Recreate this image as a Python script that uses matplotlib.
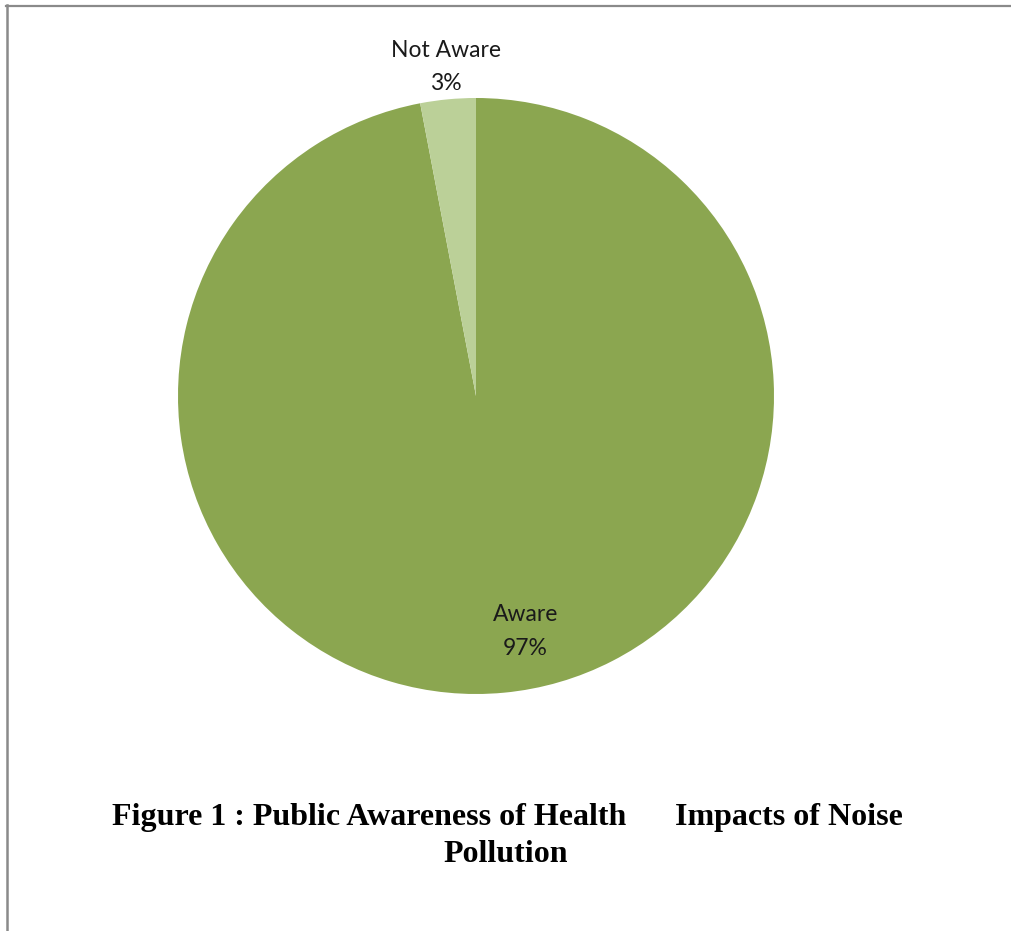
import matplotlib
matplotlib.use("Agg")
import matplotlib.pyplot as plt
from matplotlib.lines import Line2D

categories = ["Aware", "Not Aware"]
values = [97, 3]
colors = ["#8BA650", "#BBD098"]

W, H = 1011, 931
fig = plt.figure(figsize=(W / 100, H / 100), dpi=100)
fig.patch.set_facecolor("white")

cx, cy, r = 476, 396, 298
ax = fig.add_axes([(cx - r) / W, (H - cy - r) / H, 2 * r / W, 2 * r / H])
ax.pie(values, colors=colors, startangle=90, counterclock=False, radius=1.0,
       wedgeprops=dict(linewidth=0, edgecolor="none"))
ax.set_xlim(-1, 1)
ax.set_ylim(-1, 1)
ax.set_aspect("equal")
ax.axis("off")

label_pos = {"Aware": (0.165, -0.79), "Not Aware": (-0.10, 1.105)}
for cat, v in zip(categories, values):
    x, y = label_pos[cat]
    ax.text(x, y, f"{cat}\n{v}%", ha="center", va="center", fontsize=16.5,
            family=["Lato", "DejaVu Sans"], color="#1a1a1a", linespacing=1.72,
            clip_on=False)

# frame lines
fig.add_artist(Line2D([6 / W, 1.0], [1 - 5.5 / H, 1 - 5.5 / H], color="#8a8a8a", lw=1.6,
                      transform=fig.transFigure))
fig.add_artist(Line2D([7 / W, 7 / W], [0, 1 - 5 / H], color="#8a8a8a", lw=1.8,
                      transform=fig.transFigure))

title_kw = dict(family="Liberation Serif", fontweight="bold", fontsize=23, color="black",
                transform=fig.transFigure)
fig.text(626 / W, 1 - 817 / H, "Figure 1 : Public Awareness of Health", ha="right", va="center", **title_kw)
fig.text(675 / W, 1 - 817 / H, "Impacts of Noise", ha="left", va="center", **title_kw)
fig.text(506 / W, 1 - 855 / H, "Pollution", ha="center", va="center", **title_kw)

fig.savefig("out.png", dpi=100, facecolor="white")
